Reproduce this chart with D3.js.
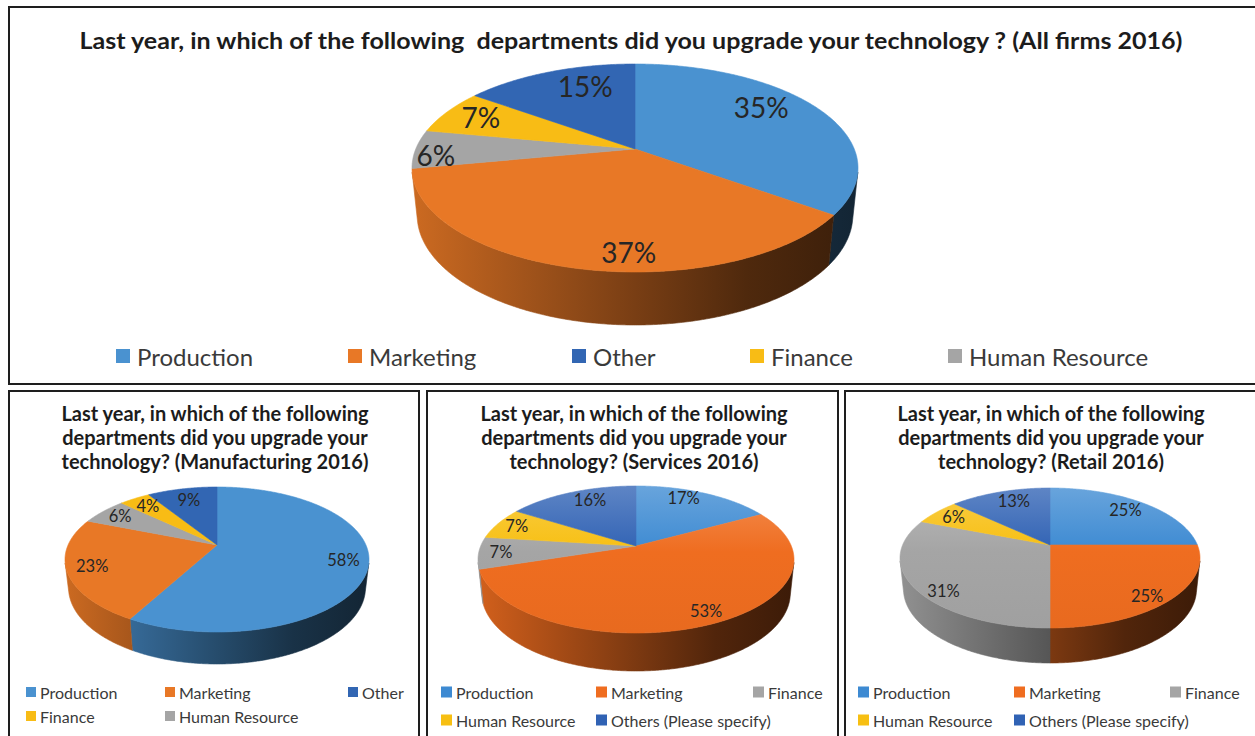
<!DOCTYPE html>
<html><head><meta charset="utf-8">
<script src="https://cdn.jsdelivr.net/npm/d3@7/dist/d3.min.js"></script>
<style>
body{margin:0;background:#fff;}
svg{display:block;font-family:Lato,"Open Sans",sans-serif;}
</style>
</head><body>
<svg id="chart" width="1255" height="736"></svg>
<script>
// ---------------- data ----------------
const allCategories = ["Production","Marketing","Human Resource","Finance","Other"];
const allValues = [35,37,6,7,15];
const allLegend = ["Production","Marketing","Other","Finance","Human Resource"];

const mfgCategories = ["Production","Marketing","Human Resource","Finance","Other"];
const mfgValues = [58,23,6,4,9];
const mfgLegend = ["Production","Marketing","Other","Finance","Human Resource"];

const svcCategories = ["Production","Marketing","Finance","Human Resource","Others (Please specify)"];
const svcValues = [17,53,7,7,16];
const svcLegend = ["Production","Marketing","Finance","Human Resource","Others (Please specify)"];

const retCategories = ["Production","Marketing","Finance","Human Resource","Others (Please specify)"];
const retValues = [25,25,31,6,13];
const retLegend = ["Production","Marketing","Finance","Human Resource","Others (Please specify)"];

const allTitle = ["Last year, in which of the following  departments did you upgrade your technology ? (All firms 2016)"];
const mfgTitle = ["Last year, in which of the following","departments did you upgrade your","technology? (Manufacturing 2016)"];
const svcTitle = ["Last year, in which of the following","departments did you upgrade your","technology? (Services 2016)"];
const retTitle = ["Last year, in which of the following","departments did you upgrade your","technology? (Retail 2016)"];

// ---------------- styles ----------------
const paletteA = ["#4a92d0","#e87826","#a5a5a5","#f8bc15","#3266b3"];
const paletteB = ["#3d8ad2","#ef6d20","#a5a5a5","#f7bf12","#3062b4"];

const svg = d3.select("#chart");
const defs = svg.append("defs");

// panel frames
const frames = [
  {x:9,y:7,w:1260,h:377},
  {x:9,y:391,w:410,h:360},
  {x:427,y:391,w:411,h:360},
  {x:845,y:391,w:420,h:360}
];
svg.selectAll("rect.frame").data(frames).join("rect")
  .attr("class","frame")
  .attr("x",d=>d.x).attr("y",d=>d.y).attr("width",d=>d.w).attr("height",d=>d.h)
  .attr("fill","none").attr("stroke","#1e1e1e").attr("stroke-width",2);

const charts = [
  {id:"all", cats:allCategories, vals:allValues, legend:allLegend, title:allTitle, palette:paletteA,
   geo:{cx:635, apexY:149, topY:64, frontY:272, rx:223, sideY:325},
   titleX:631, titleY:[49], titleSize:23, titleLen:[1103],
   labelSize:28, labelR:[0.77,0.86,0.9,0.82,0.75], labelNudge:[-9,-11,-4,1,7],
   legendX:[116,348,572,750,948], legendY:[356], legendCols:5, sq:14, legendSize:24, sqGap:7,
   topGrad:false},
  {id:"mfg", cats:mfgCategories, vals:mfgValues, legend:mfgLegend, title:mfgTitle, palette:paletteA,
   geo:{cx:217, apexY:545, topY:487, frontY:632, rx:152, sideY:664},
   titleX:215, titleY:[421,445,469], titleSize:20,
   labelSize:16.5, labelR:[0.84,0.84,0.84,0.82,0.78], labelNudge:[0,0,0,0,0],
   legendX:[26,165,348], legendY:[692,716], legendCols:3, sq:10, legendSize:16, sqGap:4,
   topGrad:false},
  {id:"svc", cats:svcCategories, vals:svcValues, legend:svcLegend, title:svcTitle, palette:paletteB,
   geo:{cx:636, apexY:546, topY:486, frontY:633, rx:158, sideY:671},
   titleX:634, titleY:[421,445,469], titleSize:20,
   labelSize:16.5, labelR:[0.84,0.87,0.86,0.86,0.8], labelNudge:[-6,-3,0,0,4],
   legendX:[441,596,753], legendY:[692,720], legendCols:3, sq:11, legendSize:16, sqGap:4,
   topGrad:true},
  {id:"ret", cats:retCategories, vals:retValues, legend:retLegend, title:retTitle, palette:paletteB,
   geo:{cx:1050, apexY:545, topY:488, frontY:628, rx:150, sideY:663},
   titleX:1051, titleY:[421,445,469], titleSize:20,
   labelSize:16.5, labelR:[0.8,0.88,0.88,0.84,0.8], labelNudge:[0,4,-9,0,3],
   legendX:[858,1014,1170], legendY:[692,720], legendCols:3, sq:11, legendSize:16, sqGap:4,
   topGrad:true}
];

function makeProjection(m){
  const far = m.apexY - m.topY, near = m.frontY - m.apexY;
  const k = near/far, mm = (k+1)/(k-1);
  const s = far*(mm+1)/(m.rx*Math.sqrt(mm*mm-1));
  const c = Math.sqrt(1-s*s);
  const D = mm*c, F = m.rx*c*Math.sqrt(mm*mm-1);
  const dl = m.sideY - m.apexY;
  const h = (F*s - dl*(D-c))/(dl*s - F*c);
  function P(r, th, y){
    const px = r*Math.sin(th), pz = -r*Math.cos(th);
    const den = D - y*s - pz*c;
    return [m.cx + F*px/den, m.apexY - F*(y*c - pz*s)/den];
  }
  const thV = Math.acos(-1/(D*c));
  return {P, h, thV};
}

function shade(col, f){
  const c = d3.rgb(col);
  return d3.rgb(c.r*f, c.g*f, c.b*f).formatHex();
}
function tint(col, f){
  const c = d3.rgb(col);
  return d3.rgb(c.r+(255-c.r)*f, c.g+(255-c.g)*f, c.b+(255-c.b)*f).formatHex();
}

const line = d3.line();
const TAU = Math.PI*2;

charts.forEach(ch => {
  const g = svg.append("g").attr("class","chart-"+ch.id);
  const color = d3.scaleOrdinal().domain(ch.cats).range(ch.palette);
  const pr = makeProjection(ch.geo);
  const arcs = d3.pie().sort(null).value(d=>d.v)(ch.cats.map((c,i)=>({c, v:ch.vals[i], i})));
  const total = d3.sum(ch.vals);

  // gradients
  ch.cats.forEach((cat,i)=>{
    const lg = defs.append("linearGradient").attr("id",`wall-${ch.id}-${i}`)
      .attr("gradientUnits","userSpaceOnUse")
      .attr("x1", ch.geo.cx - ch.geo.rx).attr("x2", ch.geo.cx + ch.geo.rx)
      .attr("y1",0).attr("y2",0);
    [[0,0.88],[0.25,0.7],[0.5,0.52],[0.75,0.34],[1,0.25]].forEach(([o,f])=>{
      lg.append("stop").attr("offset",o).attr("stop-color", shade(color(cat), f));
    });
    if (ch.topGrad){
      const tg = defs.append("linearGradient").attr("id",`top-${ch.id}-${i}`)
        .attr("gradientUnits","userSpaceOnUse")
        .attr("x1",0).attr("x2",0)
        .attr("y1", ch.geo.topY).attr("y2", ch.geo.frontY);
      tg.append("stop").attr("offset",0).attr("stop-color", tint(color(cat),0.22));
      tg.append("stop").attr("offset",0.45).attr("stop-color", color(cat));
      tg.append("stop").attr("offset",1).attr("stop-color", shade(color(cat),0.97));
    }
  });

  const step = Math.PI/360;
  function samples(a0,a1){
    const n = Math.max(2, Math.ceil((a1-a0)/step));
    return d3.range(n+1).map(j => a0 + (a1-a0)*j/n);
  }

  // walls (front-facing part)
  const lo0 = pr.thV - 0.01, hi0 = TAU - pr.thV + 0.01;
  const walls = g.append("g").attr("class","walls");
  arcs.forEach(a=>{
    const lo = Math.max(a.startAngle, lo0), hi = Math.min(a.endAngle, hi0);
    if (lo >= hi) return;
    const ts = samples(lo,hi);
    const pts = ts.map(t=>pr.P(1,t,0)).concat(ts.slice().reverse().map(t=>pr.P(1,t,-pr.h)));
    walls.append("path").attr("d", line(pts)+"Z")
      .attr("fill", `url(#wall-${ch.id}-${a.data.i})`)
      .attr("stroke", `url(#wall-${ch.id}-${a.data.i})`).attr("stroke-width",0.6);
  });

  // top faces
  const tops = g.append("g").attr("class","tops");
  arcs.forEach(a=>{
    const ts = samples(a.startAngle, a.endAngle);
    const pts = [pr.P(0,0,0)].concat(ts.map(t=>pr.P(1,t,0)));
    const fill = ch.topGrad ? `url(#top-${ch.id}-${a.data.i})` : color(a.data.c);
    tops.append("path").attr("d", line(pts)+"Z")
      .attr("fill", fill).attr("stroke", fill).attr("stroke-width",0.6);
  });

  // labels
  const labels = g.append("g").attr("class","labels");
  arcs.forEach((a,k)=>{
    const mid = (a.startAngle + a.endAngle)/2 + ch.labelNudge[k]*Math.PI/180;
    const [x,y] = pr.P(ch.labelR[k], mid, 0);
    labels.append("text").attr("x",x).attr("y",y)
      .attr("text-anchor","middle").attr("dominant-baseline","central")
      .attr("font-size", ch.labelSize).attr("fill","#262626")
      .text(d3.format(".0%")(a.data.v/total));
  });

  // title
  const tt = g.append("text").attr("text-anchor","middle")
    .attr("font-weight","bold").attr("font-size", ch.titleSize).attr("fill","#1c1c1c");
  ch.title.forEach((t,k)=>{
    const ts = tt.append("tspan").attr("x", ch.titleX).attr("y", ch.titleY[k])
      .attr("xml:space","preserve").text(t);
    if (ch.titleLen) ts.attr("textLength", ch.titleLen[k]).attr("lengthAdjust","spacingAndGlyphs");
  });

  // legend
  const lgG = g.append("g").attr("class","legend");
  ch.legend.forEach((name,k)=>{
    const col = k % ch.legendCols, row = Math.floor(k / ch.legendCols);
    const x = ch.legendX[col], y = ch.legendY[row];
    lgG.append("rect").attr("x",x).attr("y",y-ch.sq/2).attr("width",ch.sq).attr("height",ch.sq)
      .attr("fill", color(name));
    lgG.append("text").attr("x", x+ch.sq+ch.sqGap).attr("y", y)
      .attr("dominant-baseline","central").attr("font-size", ch.legendSize).attr("fill","#3a3a3a")
      .text(name);
  });
});
</script>
</body></html>
